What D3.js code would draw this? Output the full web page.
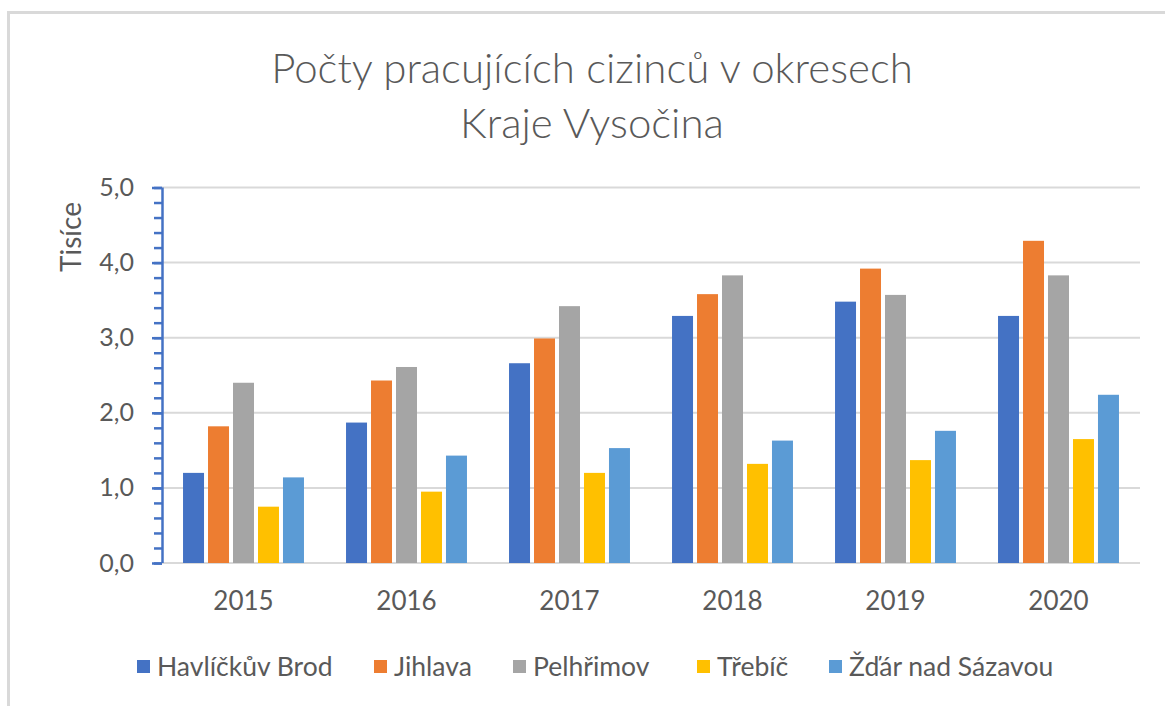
<!DOCTYPE html>
<html>
<head>
<meta charset="utf-8">
<script src="https://cdn.jsdelivr.net/npm/d3@7"></script>
<style>
  body { margin: 0; background: #fff; }
  text { font-family: Lato, "Open Sans", sans-serif; fill: #595959; }
</style>
</head>
<body>
<svg id="chart" width="1165" height="706"></svg>
<script>
// data (thousands)
const years = ['2015', '2016', '2017', '2018', '2019', '2020'];
const districts = ['Havlíčkův Brod', 'Jihlava', 'Pelhřimov', 'Třebíč', 'Žďár nad Sázavou'];
const havlickuvBrod = [1.20, 1.87, 2.66, 3.29, 3.48, 3.29];
const jihlava = [1.82, 2.43, 2.99, 3.58, 3.92, 4.29];
const pelhrimov = [2.40, 2.61, 3.42, 3.83, 3.57, 3.83];
const trebic = [0.75, 0.95, 1.20, 1.32, 1.37, 1.65];
const zdar = [1.14, 1.43, 1.53, 1.63, 1.76, 2.24];
const yTicks = [0, 1, 2, 3, 4, 5];
const colors = ['#4472c4', '#ed7d31', '#a5a5a5', '#ffc000', '#5b9bd5'];

const seriesValues = [havlickuvBrod, jihlava, pelhrimov, trebic, zdar];

const svg = d3.select('#chart');

const margin = { left: 162, right: 25, top: 187.5, bottom: 143 };
const width = 1165 - margin.left - margin.right;
const height = 706 - margin.top - margin.bottom;

// chart frame
svg.append('rect')
  .attr('x', 8.5).attr('y', 12.5)
  .attr('width', 1170).attr('height', 700)
  .attr('fill', 'none')
  .attr('stroke', '#d9d9d9')
  .attr('stroke-width', 3);

// title
const title = svg.append('text')
  .attr('text-anchor', 'middle')
  .style('font-size', '42px')
  .style('font-weight', 300);
title.append('tspan').attr('x', 592).attr('y', 83).text('Počty pracujících cizinců v okresech');
title.append('tspan').attr('x', 592).attr('y', 138).text('Kraje Vysočina');

const g = svg.append('g').attr('transform', `translate(${margin.left},${margin.top})`);

const x0 = d3.scaleBand()
  .domain(years)
  .range([0, width])
  .paddingInner(0.258)
  .paddingOuter(0.129);

const x1 = d3.scaleBand()
  .domain(districts)
  .range([0, x0.bandwidth()])
  .paddingInner(0.16);

const y = d3.scaleLinear()
  .domain([0, 5])
  .range([height, 0]);

// gridlines
g.append('g')
  .selectAll('line')
  .data(yTicks)
  .join('line')
  .attr('x1', 0).attr('x2', width)
  .attr('y1', d => y(d)).attr('y2', d => y(d))
  .attr('stroke', '#d9d9d9')
  .attr('stroke-width', 2);

// bars
const groups = g.append('g')
  .selectAll('g')
  .data(years)
  .join('g')
  .attr('transform', d => `translate(${x0(d)},0)`);

groups.selectAll('rect')
  .data((yr, i) => districts.map((name, k) => ({ name, k, value: seriesValues[k][i] })))
  .join('rect')
  .attr('x', d => x1(d.name))
  .attr('y', d => y(d.value))
  .attr('width', x1.bandwidth())
  .attr('height', d => y(0) - y(d.value))
  .attr('fill', d => colors[d.k]);

// x axis labels
const xAxis = g.append('g')
  .attr('transform', `translate(0,${height})`)
  .call(d3.axisBottom(x0).tickSize(0).tickPadding(29));
xAxis.select('.domain').remove();
xAxis.selectAll('text')
  .style('font-size', '26px')
  .style('fill', '#595959');

// y axis: minor ticks
const minor = g.append('g')
  .call(d3.axisLeft(y).tickValues(d3.range(0, 5.01, 0.2)).tickSize(8).tickFormat(''));
minor.select('.domain').remove();
minor.selectAll('line').attr('stroke', '#4472c4').attr('stroke-width', 2.5);

// y axis: major ticks and labels
const yAxis = g.append('g')
  .call(d3.axisLeft(y)
    .tickValues(yTicks)
    .tickSize(10)
    .tickPadding(18)
    .tickFormat(d => d3.format('.1f')(d).replace('.', ',')));
yAxis.select('.domain').attr('stroke', '#4472c4').attr('stroke-width', 2.5).attr('d', `M0.5,${height}V0`);
yAxis.selectAll('line').attr('stroke', '#4472c4').attr('stroke-width', 2.5);
yAxis.selectAll('text')
  .style('font-size', '25px')
  .style('fill', '#595959');

// y axis title
svg.append('text')
  .attr('transform', 'translate(81,237) rotate(-90)')
  .attr('text-anchor', 'middle')
  .style('font-size', '28px')
  .text('Tisíce');

// legend
const legendX = [137, 374, 513, 697, 829];
const legend = svg.append('g')
  .selectAll('g')
  .data(districts)
  .join('g')
  .attr('transform', (d, i) => `translate(${legendX[i]},667)`);

legend.append('rect')
  .attr('x', 0).attr('y', -7)
  .attr('width', 13).attr('height', 13)
  .attr('fill', (d, i) => colors[i]);

legend.append('text')
  .attr('x', 20)
  .attr('y', 9)
  .style('font-size', '26.5px')
  .text(d => d);
</script>
</body>
</html>
